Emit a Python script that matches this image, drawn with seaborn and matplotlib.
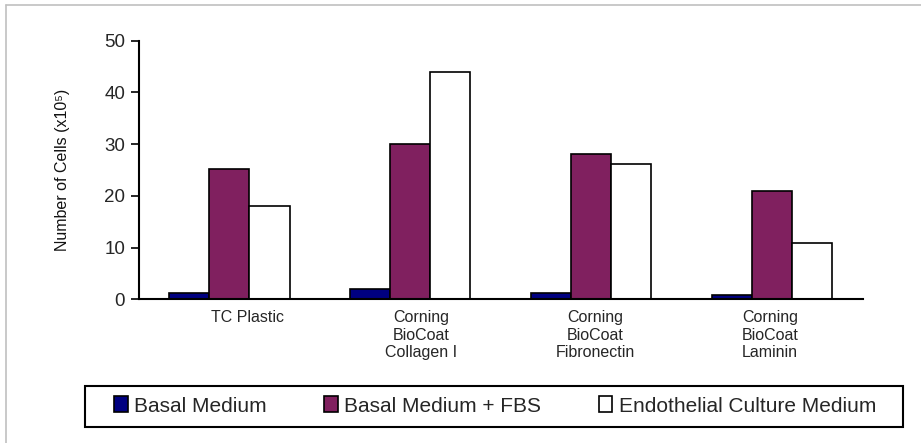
import pandas as pd
import matplotlib.pyplot as plt
import matplotlib.patches as mpatches
import matplotlib.lines as mlines
import matplotlib.transforms as mtransforms
import seaborn as sns

sns.set_theme(style="white")
plt.rcParams['font.family'] = ['Liberation Sans', 'DejaVu Sans']

surfaces = ['TC Plastic', 'Corning\nBioCoat\nCollagen I', 'Corning\nBioCoat\nFibronectin',
            'Corning\nBioCoat\nLaminin']
media = ['Basal Medium', 'Basal Medium + FBS', 'Endothelial Culture Medium']
basal = [1.2, 2.0, 1.2, 0.8]
basal_fbs = [25.1, 30.0, 28.0, 21.0]
endothelial = [18.0, 44.0, 26.2, 10.9]
colors = ['#000080', '#80205F', '#FFFFFF']

df = pd.DataFrame({
    'Surface': surfaces * 3,
    'Medium': [m for m in media for _ in surfaces],
    'Cells': basal + basal_fbs + endothelial,
})

fig = plt.figure(figsize=(9.21, 4.43), dpi=100)
ax = fig.add_axes([139 / 921, 1 - 299.3 / 443, (862.7 - 139) / 921, (299.3 - 40.7) / 443])

sns.barplot(data=df, x='Surface', y='Cells', hue='Medium', order=surfaces, hue_order=media,
            palette=dict(zip(media, colors)), saturation=1, width=0.664, gap=0,
            edgecolor='black', linewidth=1.2, ax=ax)

ax.set_ylim(0, 50)
ax.set_xlim(-0.5, 3.5)
ax.set_yticks([0, 10, 20, 30, 40, 50])
ax.set_xlabel('')
ax.set_ylabel('Number of Cells (x10⁵)', fontsize=11.5, color='#111111')
ax.yaxis.set_label_coords((70 - 139) / (862.7 - 139), 0.5)
ax.tick_params(axis='y', left=True, length=6, width=1.2, color='black', labelsize=13.5, pad=4)
ax.tick_params(axis='x', bottom=False, labelsize=11.5, pad=2)

# the category labels sit a little off the group centres in the original
label_shift_px = [18, 11, 4, -2]
for lab, dx in zip(ax.get_xticklabels(), label_shift_px):
    lab.set_linespacing(1.2)
    lab.set_transform(lab.get_transform() + mtransforms.ScaledTranslation(dx / 100, 0, fig.dpi_scale_trans))

sns.despine(ax=ax)
for side in ['left', 'bottom']:
    ax.spines[side].set_color('black')
    ax.spines[side].set_linewidth(1.5)

handles, labels = ax.get_legend_handles_labels()
ax.get_legend().remove()
fig.legend(handles, labels, loc='center', bbox_to_anchor=(495 / 921, 1 - 406 / 443),
           ncol=3, frameon=False, fontsize=15, handlelength=0.67, handleheight=0.8,
           handletextpad=0.3, columnspacing=2.75, borderpad=0)

# legend box and outer frame
fig.add_artist(mpatches.Rectangle((85 / 921, 1 - 427 / 443), (902.7 - 85) / 921, 41 / 443,
                                  transform=fig.transFigure, fill=False, edgecolor='black',
                                  linewidth=1.5))
fig.add_artist(mlines.Line2D([6 / 921, 6 / 921], [0, 1 - 5 / 443], transform=fig.transFigure,
                             color='#c0c0c0', linewidth=1.2))
fig.add_artist(mlines.Line2D([6 / 921, 1], [1 - 5 / 443, 1 - 5 / 443], transform=fig.transFigure,
                             color='#c0c0c0', linewidth=1.2))

fig.savefig('out.png', dpi=100)
